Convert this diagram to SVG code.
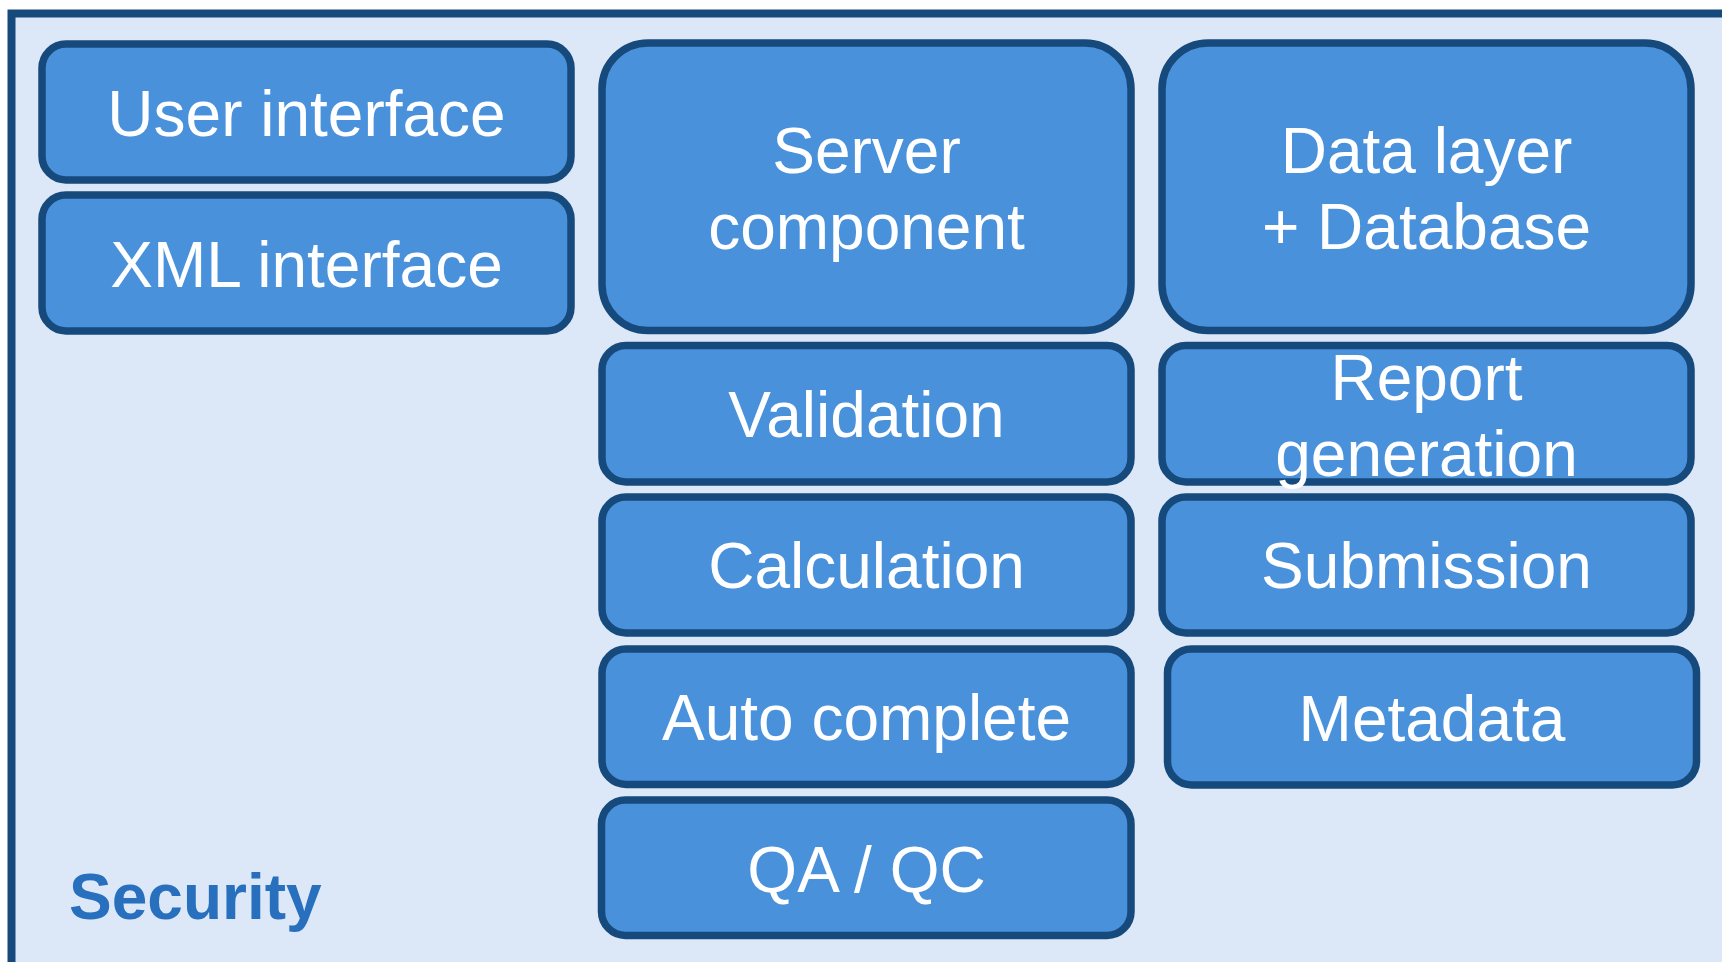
<svg xmlns="http://www.w3.org/2000/svg" width="1722" height="962" viewBox="0 0 1722 962">
<style>
.box{fill:#4A91DC;stroke:#174A7C;stroke-width:7.5}
.t{font-family:"Liberation Sans",Arial,sans-serif;font-size:64px;fill:#FFFFFF;text-anchor:middle}
.sec{font-family:"Liberation Sans",Arial,sans-serif;font-size:64px;font-weight:bold;fill:#2870BD}
</style>
<rect x="0" y="0" width="1722" height="962" fill="#FFFFFF"/>
<g id="frame">
<rect x="11.5" y="13.5" width="1800" height="1000" fill="#DCE8F7" stroke="#174A7C" stroke-width="8"/>
<text class="sec" x="69" y="918.5">Security</text>
</g>
<g id="user-interface">
<rect class="box" x="42" y="44" width="529" height="136" rx="24"/>
<text class="t" x="306.5" y="136">User interface</text>
</g>
<g id="xml-interface">
<rect class="box" x="42" y="195" width="529" height="136" rx="24"/>
<text class="t" x="306.5" y="286.5">XML interface</text>
</g>
<g id="server-component">
<rect class="box" x="602" y="43" width="529" height="287.5" rx="46"/>
<text class="t" x="866.5" y="172.5">Server</text>
<text class="t" x="866.5" y="249.3">component</text>
</g>
<g id="data-layer">
<rect class="box" x="1162" y="43" width="529" height="287.5" rx="46"/>
<text class="t" x="1426.5" y="172.5">Data layer</text>
<text class="t" x="1426.5" y="249.3">+ Database</text>
</g>
<g id="validation">
<rect class="box" x="602" y="345.5" width="529" height="136.5" rx="24"/>
<text class="t" x="866.5" y="437">Validation</text>
</g>
<g id="calculation">
<rect class="box" x="602" y="497" width="529" height="136" rx="24"/>
<text class="t" x="866.5" y="588.3">Calculation</text>
</g>
<g id="auto-complete">
<rect class="box" x="602" y="649" width="529" height="135.5" rx="24"/>
<text class="t" x="866.5" y="740">Auto complete</text>
</g>
<g id="qa-qc">
<rect class="box" x="601.5" y="800" width="529.5" height="135.5" rx="24"/>
<text class="t" x="866.5" y="891.5">QA / QC</text>
</g>
<g id="report-generation">
<rect class="box" x="1162" y="345.5" width="529" height="136.5" rx="24"/>
<text class="t" x="1426.5" y="400">Report</text>
<text class="t" x="1426.5" y="476">generation</text>
</g>
<g id="submission">
<rect class="box" x="1162" y="497" width="529" height="136" rx="24"/>
<text class="t" x="1426.5" y="588.3">Submission</text>
</g>
<g id="metadata">
<rect class="box" x="1167.5" y="649" width="529" height="136" rx="24"/>
<text class="t" x="1432" y="740.5">Metadata</text>
</g>
<g id="connectors"></g>
</svg>
